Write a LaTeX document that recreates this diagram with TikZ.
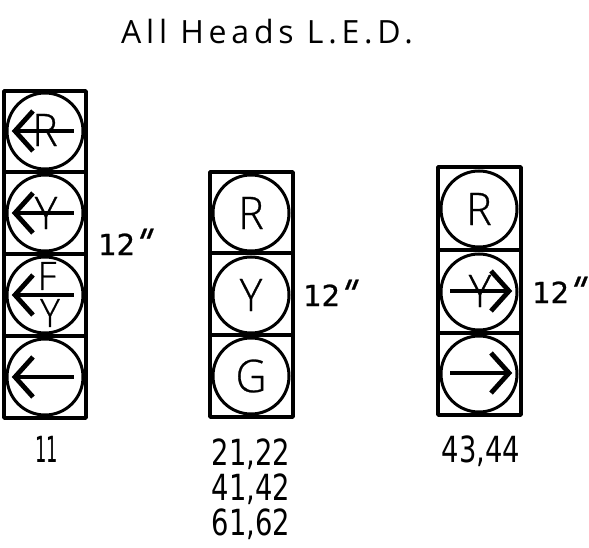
\documentclass[tikz,border=0pt]{standalone}
\usepackage{fontspec}
\setmainfont{Open Sans Light}[FakeBold=0.6]
\newfontfamily\spaced[LetterSpace=15]{Open Sans}
\newfontfamily\numfont{DejaVu Sans}
\newfontfamily\sizefont[FakeBold=0.7]{DejaVu Sans}
\newfontfamily\quotefont[FakeSlant=0.4,FakeBold=0.7]{DejaVu Sans}
\tikzset{
  xy/.style={x=1pt,y=-1pt},
  housing/.style={draw=black,line width=3.4pt,line join=round},
  lens/.style={draw=black,line width=3pt,circle,minimum size=76pt,inner sep=0pt},
  sig/.style={draw=black,line width=4.8pt},
  lett/.style={inner sep=0pt,font=\fontsize{45}{45}\selectfont},
  smalllett/.style={inner sep=0pt,font=\fontsize{39}{39}\selectfont},
  size/.style={inner sep=0pt,font=\sizefont\fontsize{29}{29}\selectfont},
  ids/.style={inner sep=0pt,align=center,font=\numfont\fontsize{36}{35}\selectfont},
  title/.style={inner sep=0pt,font=\spaced\fontsize{32}{32}\selectfont}
}
\newcommand{\nar}[1]{\scalebox{0.95}[1]{#1}}
\newcommand{\num}[1]{\scalebox{0.76}[1]{#1}}
\newcommand{\inch}{12\hspace{-5pt}{\quotefont\fontsize{36}{36}\selectfont"}}
\newcommand{\arrL}[2]{\draw[sig] (#1-31,#2) -- (#1+29,#2);
  \draw[sig,line join=miter] (#1-12,#2-20) -- (#1-30,#2) -- (#1-12,#2+20);}
\newcommand{\arrR}[2]{\draw[sig] (#1-29,#2) -- (#1+31,#2);
  \draw[sig,line join=miter] (#1+12,#2-20) -- (#1+30,#2) -- (#1+12,#2+20);}
\begin{document}
\begin{tikzpicture}[xy]
\useasboundingbox (0,0) rectangle (589,548);
\node[title] (ttl) at (267,32) {All Heads L.E.D.};
% left head
\draw[housing] (4,91) rectangle (86,418);
\draw[housing] (4,172) -- (86,172) (4,254) -- (86,254) (4,336) -- (86,336);
\node[lens] (a1) at (45,131) {};
\node[lens] (a2) at (45,213) {};
\node[lens] (a3) at (45,295) {};
\node[lens] (a4) at (45,377) {};
\arrL{45}{131}\arrL{45}{213}\arrL{45}{295}\arrL{45}{377}
\node[lett] (a1t) at (45,130) {\nar{R}};
\node[lett] (a2t) at (46,213) {\nar{Y}};
\node[smalllett] (a3f) at (47,276) {\nar{F}};
\node[smalllett] (a3y) at (50,313) {\nar{Y}};
\node[size,anchor=base west] (s1) at (98,255) {\inch};
\node[ids] (i1) at (47,449) {\scalebox{0.5}[1]{11}};
% middle head
\draw[housing] (210,172) rectangle (293,417);
\draw[housing] (210,253) -- (293,253) (210,335) -- (293,335);
\node[lens] (b1) at (251,213) {};
\node[lens] (b2) at (251,295) {};
\node[lens] (b3) at (251,376) {};
\node[lett] (b1t) at (251,213) {\nar{R}};
\node[lett] (b2t) at (251,295) {\nar{Y}};
\node[lett] (b3t) at (251,376) {\nar{G}};
\node[size,anchor=base west] (s2) at (303,306) {\inch};
\node[ids] (i2) at (251,489) {\num{21,22}\\\num{41,42}\\\num{61,62}};
% right head
\draw[housing] (438,167) rectangle (521,415);
\draw[housing] (438,250) -- (521,250) (438,333) -- (521,333);
\node[lens] (c1) at (479,209) {};
\node[lens] (c2) at (479,292) {};
\node[lens] (c3) at (479,374) {};
\arrR{479}{291}\arrR{479}{373}
\node[lett] (c1t) at (479,209) {\nar{R}};
\node[lett] (c2t) at (480,291) {\nar{Y}};
\node[size,anchor=base west] (s3) at (532,303) {\inch};
\node[ids] (i3) at (481,451) {\num{43,44}};
\end{tikzpicture}
\end{document}
